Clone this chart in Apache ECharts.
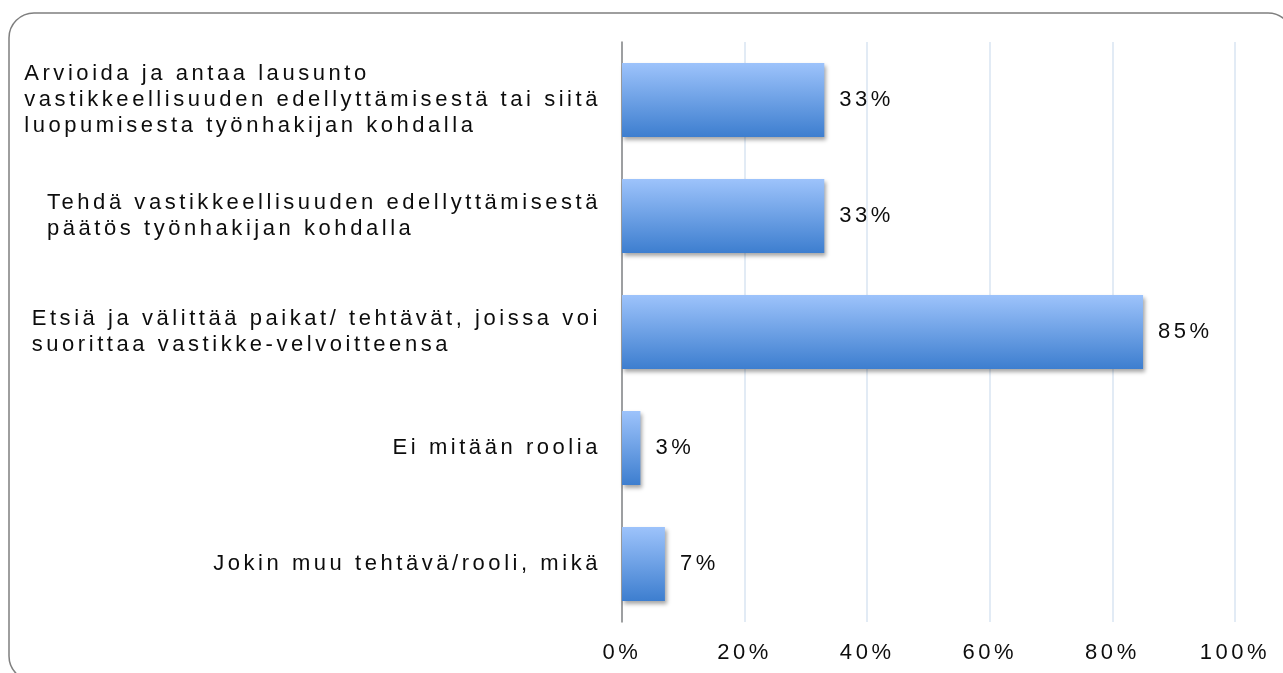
<!DOCTYPE html>
<html>
<head>
<meta charset="utf-8">
<script src="https://cdn.jsdelivr.net/npm/echarts@6/dist/echarts.min.js"></script>
<style>
    html, body {
        margin: 0;
        padding: 0;
        background: #ffffff;
        overflow: hidden;
    }

    #chart {
        width: 1283px;
        height: 673px;
    }
</style>
</head>
<body>
<div id="chart"></div>
<script>
// the original text is drawn with wide letter spacing
const LETTER_SPACING = '3.55px';
['fillText', 'strokeText', 'measureText'].forEach(function (fn) {
    const orig = CanvasRenderingContext2D.prototype[fn];
    CanvasRenderingContext2D.prototype[fn] = function () {
        this.letterSpacing = LETTER_SPACING;
        return orig.apply(this, arguments);
    };
});

const categories = [
    'Arvioida ja antaa lausunto\nvastikkeellisuuden edellyttämisestä tai siitä\nluopumisesta työnhakijan kohdalla',
    'Tehdä vastikkeellisuuden edellyttämisestä\npäätös työnhakijan kohdalla',
    'Etsiä ja välittää paikat/ tehtävät, joissa voi\nsuorittaa vastikke-velvoitteensa',
    'Ei mitään roolia',
    'Jokin muu tehtävä/rooli, mikä'
];
const shares = [33, 33, 85, 3, 7];
const xTicks = [0, 20, 40, 60, 80, 100];

const fontFamily = "'Liberation Sans', Arial, Helvetica, sans-serif";

const chart = echarts.init(document.getElementById('chart'), null, { renderer: 'canvas' });

const option = {
    animation: false,
    grid: {
        left: 622,
        right: 48,
        top: 42,
        bottom: 51
    },
    xAxis: {
        type: 'value',
        min: xTicks[0],
        max: xTicks[xTicks.length - 1],
        interval: xTicks[1] - xTicks[0],
        axisLine: { show: false },
        axisTick: { show: false },
        axisLabel: {
            formatter: '{value}%',
            margin: 18,
            color: '#0d0d0d',
            fontSize: 22,
            fontFamily: fontFamily
        },
        splitLine: {
            lineStyle: { color: '#d9e4f2', width: 1.5 }
        }
    },
    yAxis: {
        type: 'category',
        inverse: true,
        data: categories,
        axisTick: { show: false },
        axisLine: {
            lineStyle: { color: '#868686', width: 1.5 }
        },
        axisLabel: {
            margin: 21,
            formatter: function (v) {
                return v.split('\n').map(function (l) { return '{l|' + l + '}'; }).join('\n');
            },
            rich: {
                l: {
                    align: 'left',
                    color: '#0d0d0d',
                    fontSize: 22,
                    lineHeight: 26,
                    fontFamily: fontFamily
                }
            }
        }
    },
    series: [
        {
            type: 'bar',
            data: shares,
            barWidth: 74,
            itemStyle: {
                color: new echarts.graphic.LinearGradient(0, 0, 0, 1, [
                    { offset: 0, color: '#9dc3fb' },
                    { offset: 1, color: '#3d7ecf' }
                ]),
                shadowColor: 'rgba(0, 0, 0, 0.35)',
                shadowBlur: 4,
                shadowOffsetX: 2,
                shadowOffsetY: 3
            },
            label: {
                show: true,
                position: 'right',
                distance: 15,
                formatter: '{c}%',
                color: '#0d0d0d',
                fontSize: 22,
                fontFamily: fontFamily
            }
        }
    ],
    graphic: [
        {
            type: 'rect',
            silent: true,
            shape: { x: 9, y: 13, width: 1284, height: 668, r: 25 },
            style: { fill: null, stroke: '#7f7f7f', lineWidth: 1.5 }
        }
    ]
};

chart.setOption(option);
</script>
</body>
</html>
